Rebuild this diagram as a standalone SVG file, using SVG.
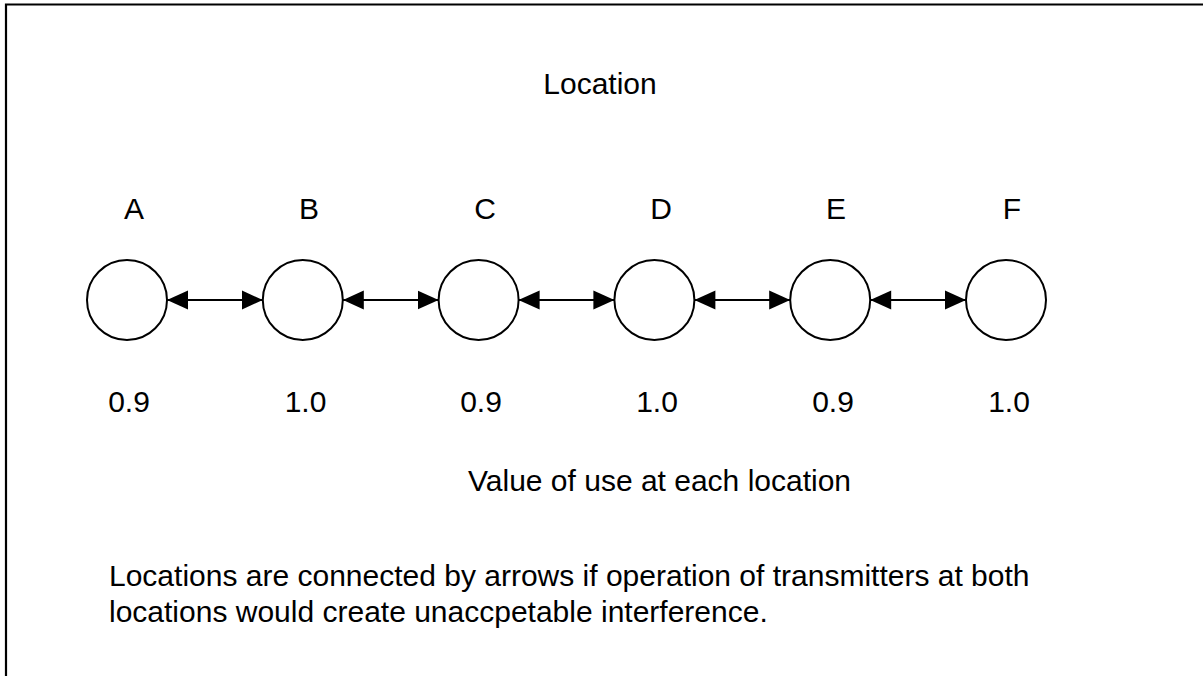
<svg xmlns="http://www.w3.org/2000/svg" width="1203" height="676" viewBox="0 0 1203 676">
  <style>
    .t { font-family: "Liberation Sans", Arial, sans-serif; font-size: 30px; fill: #000; }
    .c { text-anchor: middle; }
    .node circle { fill: #fff; stroke: #000; stroke-width: 2; }
    .link { stroke: #000; stroke-width: 2.2; fill: none; marker-start: url(#headL); marker-end: url(#headR); }
  </style>
  <defs>
    <marker id="headR" markerUnits="userSpaceOnUse" markerWidth="22" markerHeight="20" refX="21" refY="10" orient="auto">
      <path d="M0,0.5 L21,10 L0,19.5 Z" fill="#000"/>
    </marker>
    <marker id="headL" markerUnits="userSpaceOnUse" markerWidth="22" markerHeight="20" refX="0" refY="10" orient="auto">
      <path d="M21,0.5 L0,10 L21,19.5 Z" fill="#000"/>
    </marker>
  </defs>
  <rect width="1203" height="676" fill="#fff"/>

  <!-- frame: top and left edges -->
  <path d="M6,676 V4.5 H1203" fill="none" stroke="#000" stroke-width="2.2"/>

  <text class="t c" x="600" y="94">Location</text>

  <g id="connectors">
    <line class="link" x1="167" y1="300" x2="262.8" y2="300"/>
    <line class="link" x1="342.8" y1="300" x2="438.6" y2="300"/>
    <line class="link" x1="518.6" y1="300" x2="614.4" y2="300"/>
    <line class="link" x1="694.4" y1="300" x2="790.2" y2="300"/>
    <line class="link" x1="870.2" y1="300" x2="966" y2="300"/>
  </g>

  <g id="nodeA" class="node">
    <text class="t c" x="134" y="219">A</text>
    <circle cx="127" cy="300" r="40"/>
    <text class="t c" x="129" y="412">0.9</text>
  </g>
  <g id="nodeB" class="node">
    <text class="t c" x="309" y="219">B</text>
    <circle cx="302.8" cy="300" r="40"/>
    <text class="t c" x="305.5" y="412">1.0</text>
  </g>
  <g id="nodeC" class="node">
    <text class="t c" x="485" y="219">C</text>
    <circle cx="478.6" cy="300" r="40"/>
    <text class="t c" x="481" y="412">0.9</text>
  </g>
  <g id="nodeD" class="node">
    <text class="t c" x="661" y="219">D</text>
    <circle cx="654.4" cy="300" r="40"/>
    <text class="t c" x="657" y="412">1.0</text>
  </g>
  <g id="nodeE" class="node">
    <text class="t c" x="836" y="219">E</text>
    <circle cx="830.2" cy="300" r="40"/>
    <text class="t c" x="833" y="412">0.9</text>
  </g>
  <g id="nodeF" class="node">
    <text class="t c" x="1012" y="219">F</text>
    <circle cx="1006" cy="300" r="40"/>
    <text class="t c" x="1009" y="412">1.0</text>
  </g>

  <text class="t" x="468" y="491">Value of use at each location</text>

  <text class="t" x="109" y="586">Locations are connected by arrows if operation of transmitters at both</text>
  <text class="t" x="109" y="622">locations would create unaccpetable interference.</text>
</svg>
